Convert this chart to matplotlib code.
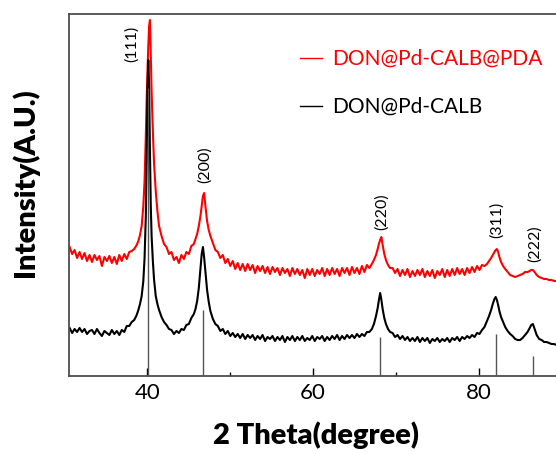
import matplotlib
matplotlib.use("Agg")
import matplotlib.pyplot as plt

plt.rcParams["font.family"] = ["Lato", "DejaVu Sans"]

# 2-theta sample positions (deg), shared by both patterns
two_theta = [
    30.6, 30.9, 31.2, 31.5, 31.8, 32.1, 32.4, 32.7, 33.0, 33.3, 33.6, 33.9, 34.2,
    34.5, 34.8, 35.1, 35.4, 35.7, 36.0, 36.3, 36.6, 36.9, 37.2, 37.5, 37.8, 38.1,
    38.4, 38.7, 38.9, 39.1, 39.3, 39.5, 39.65, 39.8, 39.9, 40.0, 40.1, 40.2, 40.3,
    40.4, 40.5, 40.65, 40.8, 41.0, 41.2, 41.4, 41.7, 42.0,
    42.3, 42.6, 42.9, 43.2, 43.5, 43.8, 44.1, 44.4, 44.7, 45.0, 45.3,
    45.6, 45.8, 46.0, 46.2, 46.4, 46.55, 46.7, 46.85, 47.0, 47.2, 47.4, 47.6, 47.9, 48.2,
    48.5, 48.8, 49.1, 49.4, 49.7, 50.0, 50.3, 50.6, 50.9, 51.2, 51.5, 51.8, 52.1,
    52.4, 52.7, 53.0, 53.3, 53.6, 53.9, 54.2, 54.5, 54.8, 55.1, 55.4, 55.7, 56.0,
    56.3, 56.6, 56.9, 57.2, 57.5, 57.8, 58.1, 58.4, 58.7, 59.0, 59.3, 59.6, 59.9,
    60.2, 60.5, 60.8, 61.1, 61.4, 61.7, 62.0, 62.3, 62.6, 62.9, 63.2, 63.5, 63.8,
    64.1, 64.4, 64.7, 65.0, 65.3, 65.6, 65.9, 66.2, 66.5, 66.8,
    67.1, 67.35, 67.6, 67.8, 67.95, 68.1, 68.25, 68.4, 68.6, 68.8, 69.05, 69.3,
    69.6, 69.9, 70.2, 70.5, 70.8, 71.1, 71.4, 71.7, 72.0, 72.3, 72.6, 72.9, 73.2,
    73.5, 73.8, 74.1, 74.4, 74.7, 75.0, 75.3, 75.6, 75.9, 76.2, 76.5, 76.8, 77.1,
    77.4, 77.7, 78.0, 78.3, 78.6, 78.9, 79.2, 79.5, 79.8, 80.1, 80.4,
    80.7, 81.0, 81.25, 81.5, 81.7, 81.9, 82.05, 82.2, 82.35, 82.5, 82.7, 82.95,
    83.2, 83.5, 83.8,
    84.1, 84.4, 84.7, 85.0, 85.3, 85.6,
    85.9, 86.15, 86.35, 86.55, 86.75, 87.0, 87.3,
    87.6, 87.9, 88.2, 88.5, 88.8, 89.1, 89.4, 89.7, 90.0,
]

# DON@Pd-CALB (black)
counts_calb = [
    48, 43, 47, 44, 48, 44, 47, 42, 45, 46, 42, 47, 43,
    40, 45, 43, 41, 46, 42, 45, 41, 46, 44, 50, 50, 54,
    56, 61, 66, 72, 80, 95, 118, 160, 215, 285, 316, 290, 225,
    170, 140, 115, 96, 80, 72, 66, 59, 54,
    51, 47, 46, 42, 45, 43, 47, 46, 51, 52, 58,
    62, 67, 75, 88, 108, 122, 129, 118, 104, 86, 74, 65, 57, 52,
    50, 45, 47, 42, 45, 40, 43, 39, 42, 38, 42, 37, 41,
    38, 41, 36, 40, 37, 41, 35, 39, 37, 40, 35, 39, 36,
    40, 34, 39, 36, 40, 35, 39, 36, 40, 35, 38, 36, 40,
    35, 39, 37, 40, 35, 39, 36, 40, 37, 41, 36, 40, 37,
    41, 38, 41, 38, 42, 39, 42, 40, 44, 44,
    47, 52, 60, 68, 76, 83, 76, 67, 58, 52, 47, 44,
    43, 39, 41, 37, 40, 36, 39, 35, 38, 35, 39, 34, 38,
    35, 38, 33, 37, 35, 38, 34, 37, 35, 38, 34, 38, 36,
    39, 35, 39, 37, 40, 38, 41, 39, 43, 42, 46,
    49, 55, 60, 66, 72, 77, 79, 76, 71, 65, 59, 54,
    49, 45, 42,
    40, 37, 36, 36, 38, 41,
    44, 48, 51, 52, 47, 41, 37,
    36, 34, 34, 33, 32, 32, 31, 31, 31,
]

# DON@Pd-CALB@PDA (red)
counts_pda = [
    129, 122, 126, 118, 124, 117, 123, 115, 121, 114, 121, 116, 120,
    110, 119, 115, 120, 113, 119, 112, 121, 115, 122, 117, 124, 125,
    127, 131, 135, 141, 150, 170, 195, 240, 275, 305, 330, 350, 356,
    320, 285, 245, 212, 185, 165, 150, 140, 132,
    129, 122, 124, 116, 119, 113, 121, 117, 124, 122, 130,
    132, 137, 142, 150, 160, 170, 180, 183, 170, 155, 146, 140, 133, 126,
    124, 118, 121, 113, 117, 110, 115, 107, 113, 106, 112, 105, 112,
    106, 111, 103, 110, 105, 110, 103, 109, 102, 109, 104, 108, 101,
    108, 103, 107, 100, 108, 102, 107, 101, 106, 98, 107, 101, 107,
    100, 106, 102, 108, 100, 107, 101, 108, 102, 107, 100, 108, 103,
    108, 101, 109, 103, 108, 102, 110, 104, 111, 108,
    112, 116, 121, 127, 132, 136, 139, 131, 122, 116, 111, 108,
    108, 103, 107, 100, 106, 101, 107, 99, 105, 100, 106, 101, 107,
    99, 105, 100, 106, 98, 105, 101, 107, 99, 106, 100, 107, 101,
    108, 102, 107, 101, 108, 103, 109, 104, 110, 106, 111,
    110, 112, 115, 118, 121, 124, 126, 127, 124, 119, 114, 110,
    107, 104, 101,
    100, 99, 100, 101, 102, 104,
    104, 105, 106, 106, 104, 101, 99,
    98, 97, 97, 96, 96, 95, 95, 94, 94,
]

# reference Pd (fcc) lines
ref_pos = [40.1, 46.65, 68.05, 82.05, 86.5]
ref_int = [288, 66, 39, 42, 20]
hkl = ["(111)", "(200)", "(220)", "(311)", "(222)"]

# where the hkl labels sit (data coords, text bottom)
label_xy = [(38.07, 314), (46.95, 193), (68.26, 146), (82.15, 138), (86.74, 114)]

fig = plt.figure(figsize=(5.56, 4.54), dpi=100)
ax = fig.add_axes([68.8 / 556, 78 / 454, 492.7 / 556, 362 / 454])

ax.plot(two_theta, counts_pda, color="#ff0000", lw=1.5, label="DON@Pd-CALB@PDA")
ax.plot(two_theta, counts_calb, color="black", lw=1.5, label="DON@Pd-CALB")
ax.vlines(ref_pos, 0, ref_int, color="#555555", lw=1.0, zorder=3)

for txt, (x, y) in zip(hkl, label_xy):
    ax.text(x, y, txt, rotation=90, ha="center", va="bottom", fontsize=11.5)

ax.set_xlim(30.5, 90)
ax.set_ylim(0, 362)
ax.set_yticks([])
ax.set_xticks([40, 60, 80])
ax.set_xticks([50, 70], minor=True)
ax.tick_params(axis="x", which="major", direction="in", length=6, width=1,
               labelsize=16, pad=5)
ax.tick_params(axis="x", which="minor", direction="in", length=3, width=1)
for s in ax.spines.values():
    s.set_color("#4d4d4d")
    s.set_linewidth(1.3)

leg = ax.legend(loc="upper left", bbox_to_anchor=(300 / 556, 1 - 49 / 454),
                bbox_transform=fig.transFigure, frameon=False, fontsize=15,
                handlelength=1.06, handletextpad=0.47, labelspacing=1.35,
                borderpad=0, borderaxespad=0)
for line, text in zip(leg.get_lines(), leg.get_texts()):
    line.set_linewidth(1.0)
    text.set_color(line.get_color())

fig.text(316 / 556, 1 - 435 / 454, "2 Theta(degree)", ha="center", va="center",
         fontsize=21, fontweight="heavy")
fig.text(25 / 556, 1 - 183 / 454, "Intensity(A.U.)", ha="center", va="center",
         rotation=90, fontsize=21, fontweight="heavy")

fig.savefig("out.png", dpi=100)
